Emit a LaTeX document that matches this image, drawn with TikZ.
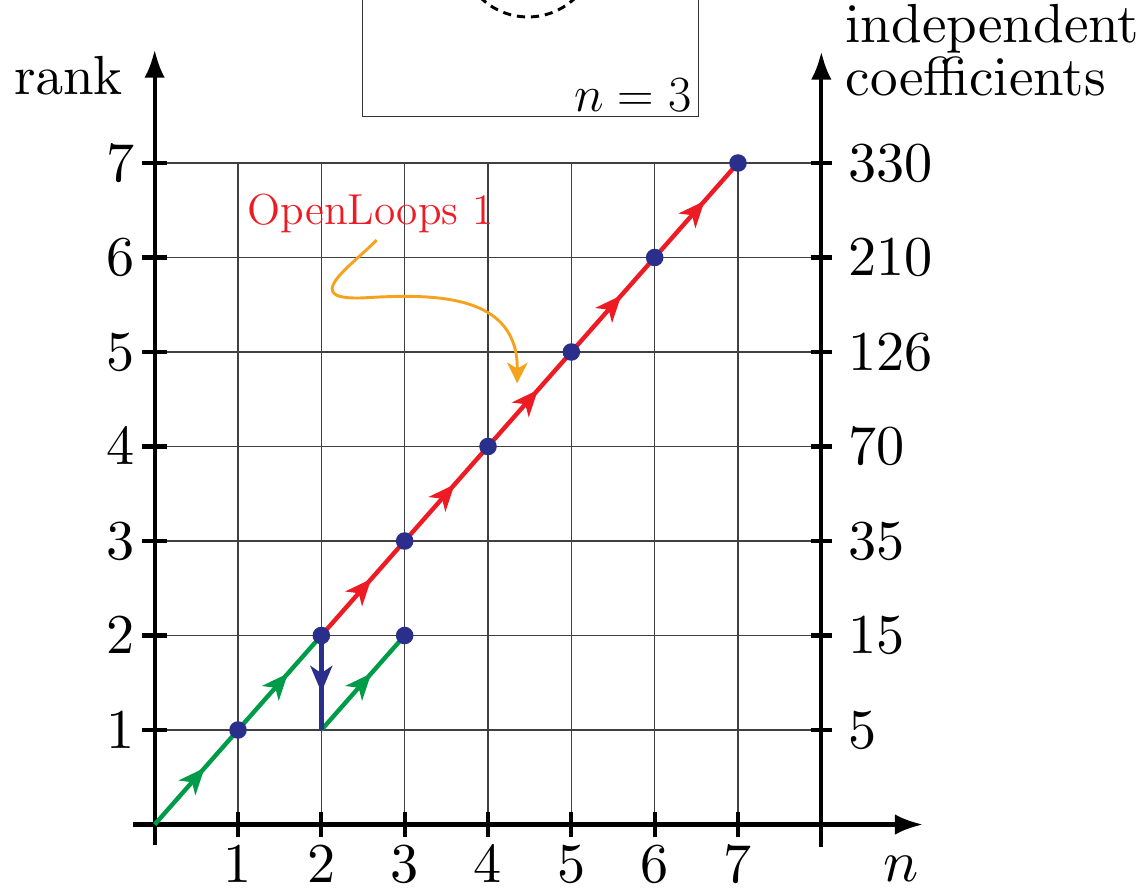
\documentclass[tikz,border=0pt]{standalone}
\usepackage{amsmath}
\usepackage{xcolor}
\usetikzlibrary{arrows.meta,decorations.markings,positioning}

\definecolor{olred}{RGB}{237,28,36}
\definecolor{olgreen}{RGB}{0,155,72}
\definecolor{olblue}{RGB}{43,47,140}
\definecolor{olorange}{RGB}{245,163,30}

\font\figrm=cmr10 at 19.2pt
\font\labrm=cmr10 at 18.8pt
\font\figmi=cmmi10 at 20pt

\begin{document}
\begin{tikzpicture}[x=1cm, y=1.134cm,
 axisline/.style={line width=1.4pt},
 axistip/.style={axisline, -{Latex[length=9.6pt,width=7pt]}},
 gridline/.style={line width=0.55pt, black!75},
 flow/.style={line width=1.5pt, postaction={decorate},
  decoration={markings, mark=at position 0.6 with {\arrow{Stealth[length=9pt,width=7.5pt,inset=2.5pt]}}}},
 dot/.style={circle, fill=olblue, inner sep=0pt, minimum size=6pt},
 big/.style={font=\figrm, inner sep=0pt},
 axlabel/.style={font={\labrm\baselineskip=18.1pt}, inner sep=0pt}]

\clip (-1.856,-0.693) rectangle (11.908,8.725);

% grid
\foreach \k in {1,...,7} {
 \draw[gridline] (\k,0) -- (\k,7);
 \draw[gridline] (0,\k) -- (8,\k);
}

% axes
\draw[axistip] (-0.26,0) -- (9.22,0);
\draw[axistip] (0,-0.22) -- (0,8.2);
\draw[axistip] (8,-0.24) -- (8,8.18);

% ticks and numbers
\foreach \k/\c in {1/5,2/15,3/35,4/70,5/126,6/210,7/330} {
 \draw[axisline] (-0.15,\k) -- (0.15,\k);
 \draw[axisline] (7.87,\k) -- (8.13,\k);
 \draw[axisline] (\k,-0.13) -- (\k,0.13);
 \node[big, anchor=east] (l\k) at (-0.235,\k) {\k};
 \node[big, anchor=west] (r\k) at (8.32,\k) {\c};
 \node[big, anchor=base] (b\k) at (\k,-0.615) {\k};
}

% axis labels
\node[axlabel, anchor=base] (rank) at (-1.035,7.72) {rank};
\node[axlabel, anchor=north west, align=left] (coef) at (8.285,8.69) {independent\\coefficients};
\node[inner sep=0pt, font=\figmi, anchor=base] (nlab) at (8.96,-0.6) {n};

% inset with the loop
\node[draw, line width=0.5pt, black!80, minimum width=4.035cm, minimum height=3cm, anchor=south west] (inset) at (2.485,7.484) {};
\node[circle, draw, dashed, line width=1pt, dash pattern=on 2.8pt off 2pt, minimum size=1.632cm] (loop) at (4.48,9.265) {};
\node[font=\fontsize{16}{19}\selectfont, inner sep=0pt, anchor=base east] (nthree) at (6.45,7.54) {$n=3$};

% points
\coordinate (o) at (0,0);
\coordinate (c21) at (2,1);
\coordinate (p32) at (3,2);
\foreach \k in {1,...,7} \coordinate (p\k) at (\k,\k);

% paths
\draw[flow, olgreen] (o) -- (p1);
\draw[flow, olgreen] (p1) -- (p2);
\draw[flow, olgreen] (c21) -- (p32);
\draw[flow, olblue] (p2) -- (c21);
\foreach \a/\b in {2/3,3/4,4/5,5/6,6/7}
 \draw[flow, olred] (p\a) -- (p\b);

% dots
\foreach \k in {1,...,7} \node[dot] (d\k) at (p\k) {};
\node[dot] (d32) at (p32) {};

% OpenLoops 1
\node[olred, font=\fontsize{14.8}{17}\selectfont, inner sep=0pt, anchor=base west] (olab) at (1.11,6.344) {OpenLoops 1};
\coordinate (olstart) at (2.664,6.185);
\coordinate (oltip) at (4.35,4.67);
\draw[olorange, line width=1pt, -{Stealth[length=7pt,width=7pt,inset=2pt]}]
 (olstart) .. controls (2.35,5.9) and (1.7,5.53) .. (2.55,5.575)
 .. controls (3.4,5.62) and (4.36,5.6) .. (oltip);
\end{tikzpicture}
\end{document}
